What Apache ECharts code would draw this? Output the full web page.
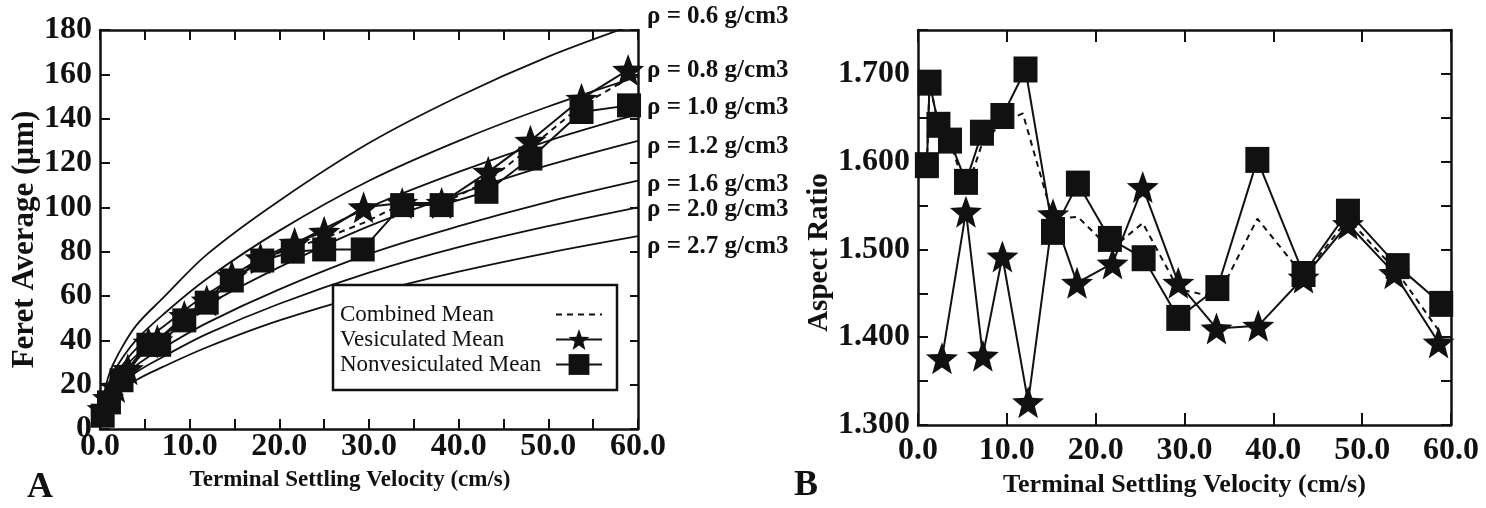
<!DOCTYPE html>
<html>
<head>
<meta charset="utf-8">
<script src="https://cdn.jsdelivr.net/npm/echarts@6/dist/echarts.min.js"></script>
<style>
  html, body { margin: 0; padding: 0; background: #fff; }
  #chart { width: 1486px; height: 508px; }
</style>
</head>
<body>
<div id="chart"></div>
<script>
// ---- data ----
// panel A: density curves (velocity cm/s -> feret µm)
var curveVel = [0.3, 1, 2, 4, 7, 12, 20, 30, 40, 50, 60];
var rho06 = [13, 24.5, 33.5, 46.5, 59, 79, 103, 129, 150, 168, 183];
var rho08 = [11, 21, 29, 40, 51.5, 68, 89.5, 112, 130, 145.5, 159];
var rho10 = [10, 19, 26, 36, 46, 61, 80, 100, 116, 130, 142];
var rho12 = [9, 17.5, 24, 33, 42, 56, 73, 91.5, 106, 119, 130];
var rho16 = [8, 15, 20.5, 28.5, 36.5, 48, 63, 79, 91.5, 102.5, 112];
var rho20 = [7, 13.5, 18.5, 25.5, 32.5, 43, 56.5, 70.5, 82, 91.5, 100];
var rho27 = [6, 11.5, 16, 22, 28, 37, 49, 61, 71, 79.5, 87];
var densityNames = ['ρ = 0.6 g/cm3', 'ρ = 0.8 g/cm3', 'ρ = 1.0 g/cm3', 'ρ = 1.2 g/cm3',
                    'ρ = 1.6 g/cm3', 'ρ = 2.0 g/cm3', 'ρ = 2.7 g/cm3'];

// panel A means
var combVelA = [0.3, 1.0, 1.8, 3.0, 5.5, 6.5, 9.4, 11.9, 14.7, 17.9, 21.6, 25, 29.4, 33.7, 38.1, 43.3, 48, 53.7, 58.9];
var combFeret = [7, 12, 19, 26, 38, 39, 50, 57.5, 68, 76.5, 82, 86, 93, 101.5, 101.5, 112, 127, 146, 158];
var vesVelA = [0.3, 0.9, 1.7, 3.1, 5.4, 6.4, 9.4, 11.9, 14.7, 17.9, 21.7, 25, 29.4, 33.7, 38.1, 43.3, 48, 53.7, 58.9];
var vesFeret = [9, 14, 19, 27, 39, 40, 51, 58, 69, 77, 84, 89, 100, 102, 102, 116, 130, 149, 162];
var nonVelA = [0.3, 1.0, 2.4, 5.4, 6.6, 9.4, 11.9, 14.7, 18.1, 21.5, 25, 29.3, 33.7, 38.1, 43.1, 48, 53.7, 59];
var nonFeret = [6, 12, 22, 38, 38, 49, 57, 67, 76, 80, 81, 81, 101, 101, 107, 122, 143, 146];

// panel B means (aspect ratio)
var combVelB = [1.0, 1.3, 2.3, 3.6, 5.4, 7.2, 9.5, 11.8, 15.2, 18.0, 21.7, 25.3, 29.3, 33.7, 38.2, 43.4, 48.4, 53.8, 58.8];
var combAR = [1.596, 1.690, 1.642, 1.624, 1.565, 1.620, 1.645, 1.655, 1.535, 1.537, 1.500, 1.530, 1.455, 1.445, 1.535, 1.470, 1.535, 1.476, 1.405];
var vesVelB = [2.7, 5.4, 7.3, 9.5, 12.4, 15.2, 17.9, 21.9, 25.3, 29.3, 33.6, 38.3, 43.4, 48.4, 53.6, 58.6];
var vesAR = [1.376, 1.543, 1.379, 1.492, 1.326, 1.540, 1.462, 1.484, 1.571, 1.462, 1.410, 1.413, 1.468, 1.529, 1.473, 1.394];
var nonVelB = [1.0, 1.3, 2.3, 3.6, 5.4, 7.2, 9.5, 12.1, 15.2, 18.0, 21.6, 25.4, 29.3, 33.7, 38.2, 43.4, 48.4, 54.0, 58.9];
var nonAR = [1.596, 1.690, 1.642, 1.624, 1.577, 1.633, 1.652, 1.705, 1.520, 1.575, 1.512, 1.490, 1.422, 1.456, 1.602, 1.472, 1.543, 1.481, 1.438];

function pairs(xs, ys) {
    var out = [];
    for (var i = 0; i < xs.length; i++) out.push([xs[i], ys[i]]);
    return out;
}

var ink = '#111';
var serif = 'Liberation Serif, Times New Roman, serif';
var starPath = 'path://M0,-1L0.247,-0.34L0.951,-0.309L0.399,0.13L0.588,0.809L0,0.42L-0.588,0.809L-0.399,0.13L-0.951,-0.309L-0.247,-0.34Z';

// shared axis look: box frame, ticks pointing inside
function axisBase(extra) {
    var base = {
        type: 'value',
        axisLine: { show: true, onZero: false, lineStyle: { color: ink, width: 2.5 } },
        axisTick: { show: true, inside: true, length: 10, lineStyle: { color: ink, width: 2 } },
        splitLine: { show: false },
        axisLabel: { show: false }
    };
    for (var k in extra) base[k] = extra[k];
    return base;
}
var tickFont = { color: ink, fontFamily: serif, fontWeight: 'bold', fontSize: 32 };

var xAxes = [
    // A bottom
    axisBase({
        gridIndex: 0, min: 0, max: 60, interval: 5, position: 'bottom',
        axisLabel: Object.assign({ show: true, margin: 2, formatter: function (v) {
            return v % 10 === 0 ? v.toFixed(1) : '';
        } }, tickFont),
        name: 'Terminal Settling Velocity (cm/s)', nameLocation: 'middle', nameGap: 40,
        nameTextStyle: { color: ink, fontFamily: serif, fontWeight: 'bold', fontSize: 23, padding: [0, 38, 0, 0] }
    }),
    // A top
    axisBase({ gridIndex: 0, min: 0, max: 60, interval: 5, position: 'top' }),
    // B bottom
    axisBase({
        gridIndex: 1, min: 0, max: 60, interval: 10, position: 'bottom',
        axisTick: { show: true, inside: true, length: 12, lineStyle: { color: ink, width: 2 } },
        axisLabel: Object.assign({ show: true, margin: 10, formatter: function (v) {
            return v.toFixed(1);
        } }, tickFont),
        name: 'Terminal Settling Velocity (cm/s)', nameLocation: 'middle', nameGap: 45,
        nameTextStyle: { color: ink, fontFamily: serif, fontWeight: 'bold', fontSize: 26 }
    }),
    // B top
    axisBase({
        gridIndex: 1, min: 0, max: 60, interval: 10, position: 'top',
        axisTick: { show: true, inside: true, length: 12, lineStyle: { color: ink, width: 2 } }
    })
];

var yAxes = [
    // A left
    axisBase({
        gridIndex: 0, min: 0, max: 180, interval: 20, position: 'left',
        axisLabel: Object.assign({ show: true, margin: 8 }, tickFont),
        name: 'Feret Average (µm)', nameLocation: 'middle', nameGap: 57,
        nameTextStyle: { color: ink, fontFamily: serif, fontWeight: 'bold', fontSize: 31, padding: [0, 20, 0, 0] }
    }),
    // A right
    axisBase({ gridIndex: 0, min: 0, max: 180, interval: 20, position: 'right',
        axisTick: { show: true, inside: true, length: 8, lineStyle: { color: ink, width: 2 } } }),
    // B left
    axisBase({
        gridIndex: 1, min: 1.3, max: 1.75, interval: 0.05, position: 'left',
        axisLabel: Object.assign({ show: true, margin: 8, formatter: function (v) {
            return Math.round(v * 1000) % 100 === 0 ? v.toFixed(3) : '';
        } }, tickFont),
        name: 'Aspect Ratio', nameLocation: 'middle', nameGap: 84,
        nameTextStyle: { color: ink, fontFamily: serif, fontWeight: 'bold', fontSize: 29, padding: [0, 50, 0, 0] }
    }),
    // B right
    axisBase({ gridIndex: 1, min: 1.3, max: 1.75, interval: 0.05, position: 'right' })
];

var curves = [rho06, rho08, rho10, rho12, rho16, rho20, rho27];
var series = [];
curves.forEach(function (vals, i) {
    series.push({
        name: densityNames[i], type: 'line', xAxisIndex: 0, yAxisIndex: 0,
        data: pairs(curveVel, vals), smooth: 0.35, symbol: 'none', silent: true,
        lineStyle: { color: ink, width: 1.8 }
    });
});

series.push({
    name: 'Combined Mean', type: 'line', xAxisIndex: 0, yAxisIndex: 0,
    data: pairs(combVelA, combFeret), symbol: 'circle', symbolSize: 0,
    itemStyle: { color: ink }, lineStyle: { color: ink, width: 2, type: [6, 5] }
}, {
    name: 'Nonvesiculated Mean', type: 'line', xAxisIndex: 0, yAxisIndex: 0,
    data: pairs(nonVelA, nonFeret), symbol: 'rect', symbolSize: 24,
    itemStyle: { color: ink }, lineStyle: { color: ink, width: 2 }
}, {
    name: 'Vesiculated Mean', type: 'line', xAxisIndex: 0, yAxisIndex: 0,
    data: pairs(vesVelA, vesFeret), symbol: starPath, symbolSize: 32,
    itemStyle: { color: ink }, lineStyle: { color: ink, width: 2 }
});

// panel B
series.push({
    name: 'Combined B', type: 'line', xAxisIndex: 2, yAxisIndex: 2,
    data: pairs(combVelB, combAR), symbol: 'none',
    lineStyle: { color: ink, width: 2, type: [6, 5] }
}, {
    name: 'Nonvesiculated B', type: 'line', xAxisIndex: 2, yAxisIndex: 2,
    data: pairs(nonVelB, nonAR), symbol: 'rect', symbolSize: [24, 26],
    itemStyle: { color: ink }, lineStyle: { color: ink, width: 2 }
}, {
    name: 'Vesiculated B', type: 'line', xAxisIndex: 2, yAxisIndex: 2,
    data: pairs(vesVelB, vesAR), symbol: starPath, symbolSize: 32,
    itemStyle: { color: ink }, lineStyle: { color: ink, width: 2 }
});

// density labels to the right of panel A
var labelMid = [18, 72, 109, 148, 186, 211, 248];
var graphics = densityNames.map(function (t, i) {
    return {
        type: 'text', left: 647, top: labelMid[i] - 14,
        style: { text: t, fill: ink, font: 'bold 25px ' + serif }
    };
});
graphics.push(
    { type: 'text', left: 27, top: 470, style: { text: 'A', fill: ink, font: 'bold 36px ' + serif } },
    { type: 'text', left: 794, top: 468, style: { text: 'B', fill: ink, font: 'bold 36px ' + serif } }
);

var chart = echarts.init(document.getElementById('chart'));
chart.setOption({
    backgroundColor: '#fff',
    animation: false,
    grid: [
        { left: 100, top: 30, width: 538, height: 399 },
        { left: 918, top: 30, width: 533, height: 395 }
    ],
    xAxis: xAxes,
    yAxis: yAxes,
    legend: {
        orient: 'vertical', left: 333, top: 285, align: 'right',
        itemWidth: 46, itemHeight: 26, itemGap: 2,
        padding: [18, 14, 14, 7],
        backgroundColor: '#fff', borderColor: ink, borderWidth: 2.5, borderRadius: 0,
        selectedMode: false,
        data: [
            { name: 'Combined Mean', itemStyle: { opacity: 0 } },
            { name: 'Vesiculated Mean' },
            { name: 'Nonvesiculated Mean' }
        ],
        formatter: function (name) { return '{t|' + name + '}'; },
        textStyle: {
            rich: { t: { width: 211, align: 'left', fontSize: 23, fontFamily: serif, color: ink } }
        }
    },
    graphic: graphics,
    series: series
});
</script>
</body>
</html>
